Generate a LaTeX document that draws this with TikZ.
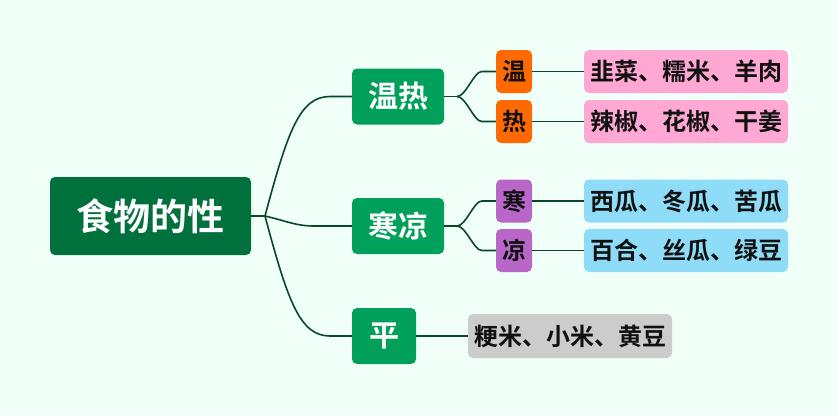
\documentclass[tikz,border=0pt]{standalone}
\usepackage{fontspec}
\usetikzlibrary{calc}
\newfontfamily\cjk{Noto Sans CJK SC}[BoldFont={Noto Sans CJK SC Bold}]

\tikzset{
    box/.style={rounded corners=5pt, inner sep=0pt, font=\cjk\bfseries},
    midbox/.style={box, fill=midcolor, text=white, minimum height=56pt, font=\cjk\bfseries\fontsize{30}{33}\selectfont},
    tagbox/.style={box, text=textcolor, minimum width=36pt, minimum height=43pt, font=\cjk\bfseries\fontsize{24}{27}\selectfont},
    leafbox/.style={box, text=textcolor, minimum width=204pt, minimum height=43pt, font=\cjk\bfseries\fontsize{24}{27}\selectfont},
    link/.style={draw=linkcolor, line width=1.6pt},
}

\begin{document}
\begin{tikzpicture}[x=1pt,y=-1pt]
    % Define colors
    \definecolor{bgcolor}{RGB}{240,255,247}
    \definecolor{rootcolor}{RGB}{0,112,60}
    \definecolor{midcolor}{RGB}{0,160,90}
    \definecolor{warmcolor}{RGB}{255,106,0}
    \definecolor{coolcolor}{RGB}{184,102,200}
    \definecolor{pinkcolor}{RGB}{255,168,212}
    \definecolor{bluecolor}{RGB}{142,220,248}
    \definecolor{graycolor}{RGB}{204,204,204}
    \definecolor{linkcolor}{RGB}{8,72,40}
    \definecolor{textcolor}{RGB}{17,17,17}

    % Background
    \useasboundingbox[fill=bgcolor] (0,0) rectangle (838,415);

    % Root
    \node[box, fill=rootcolor, text=white, minimum width=201pt, minimum height=78pt,
          font=\cjk\bfseries\fontsize{37}{42}\selectfont] (root) at (150.5,216) {食物的性};

    % Branches
    \node[midbox, minimum width=92pt] (warm) at (398,96.5) {温热};
    \node[midbox, minimum width=92pt] (cool) at (398,226) {寒凉};
    \node[midbox, minimum width=64pt] (mild) at (384,336) {平};

    % Junctions
    \coordinate (j0) at (265,216);
    \coordinate (j1) at (457,96.5);
    \coordinate (j2) at (457,226);

    % Root links
    \draw[link] (root.east) -- (j0);
    \draw[link] (j0) .. controls (288,130) and (300,96.5) .. (330,96.5) -- (warm.west);
    \draw[link] (j0) .. controls (290,222) and (296,226) .. (315,226) -- (cool.west);
    \draw[link] (j0) .. controls (288,302) and (300,336) .. (330,336) -- (mild.west);
    \draw[link] (warm.east) -- (j1);
    \draw[link] (cool.east) -- (j2);

    % Tags and leaves
    \foreach \name/\y/\up/\tag/\col/\leaf/\lcol in {
        wen/71.5/j1/温/warmcolor/韭菜、糯米、羊肉/pinkcolor,
        re/121.5/j1/热/warmcolor/辣椒、花椒、干姜/pinkcolor,
        han/201/j2/寒/coolcolor/西瓜、冬瓜、苦瓜/bluecolor,
        liang/250.5/j2/凉/coolcolor/百合、丝瓜、绿豆/bluecolor} {
        \node[tagbox, fill=\col] (\name) at (514,\y) {\tag};
        \node[leafbox, fill=\lcol] (\name-leaf) at (686,\y) {\leaf};
        \draw[link] (\up) .. controls ($(\up)+(9,0)$) and ($(\name.west)+(-22,0)$) .. ($(\name.west)+(-14,0)$) -- (\name.west);
        \draw[link] (\name) -- (\name-leaf);
    }

    % Mild leaf
    \node[leafbox, fill=graycolor, minimum height=44pt] (mild-leaf) at (570,336) {粳米、小米、黄豆};
    \draw[link] (mild) -- (mild-leaf);
\end{tikzpicture}
\end{document}
